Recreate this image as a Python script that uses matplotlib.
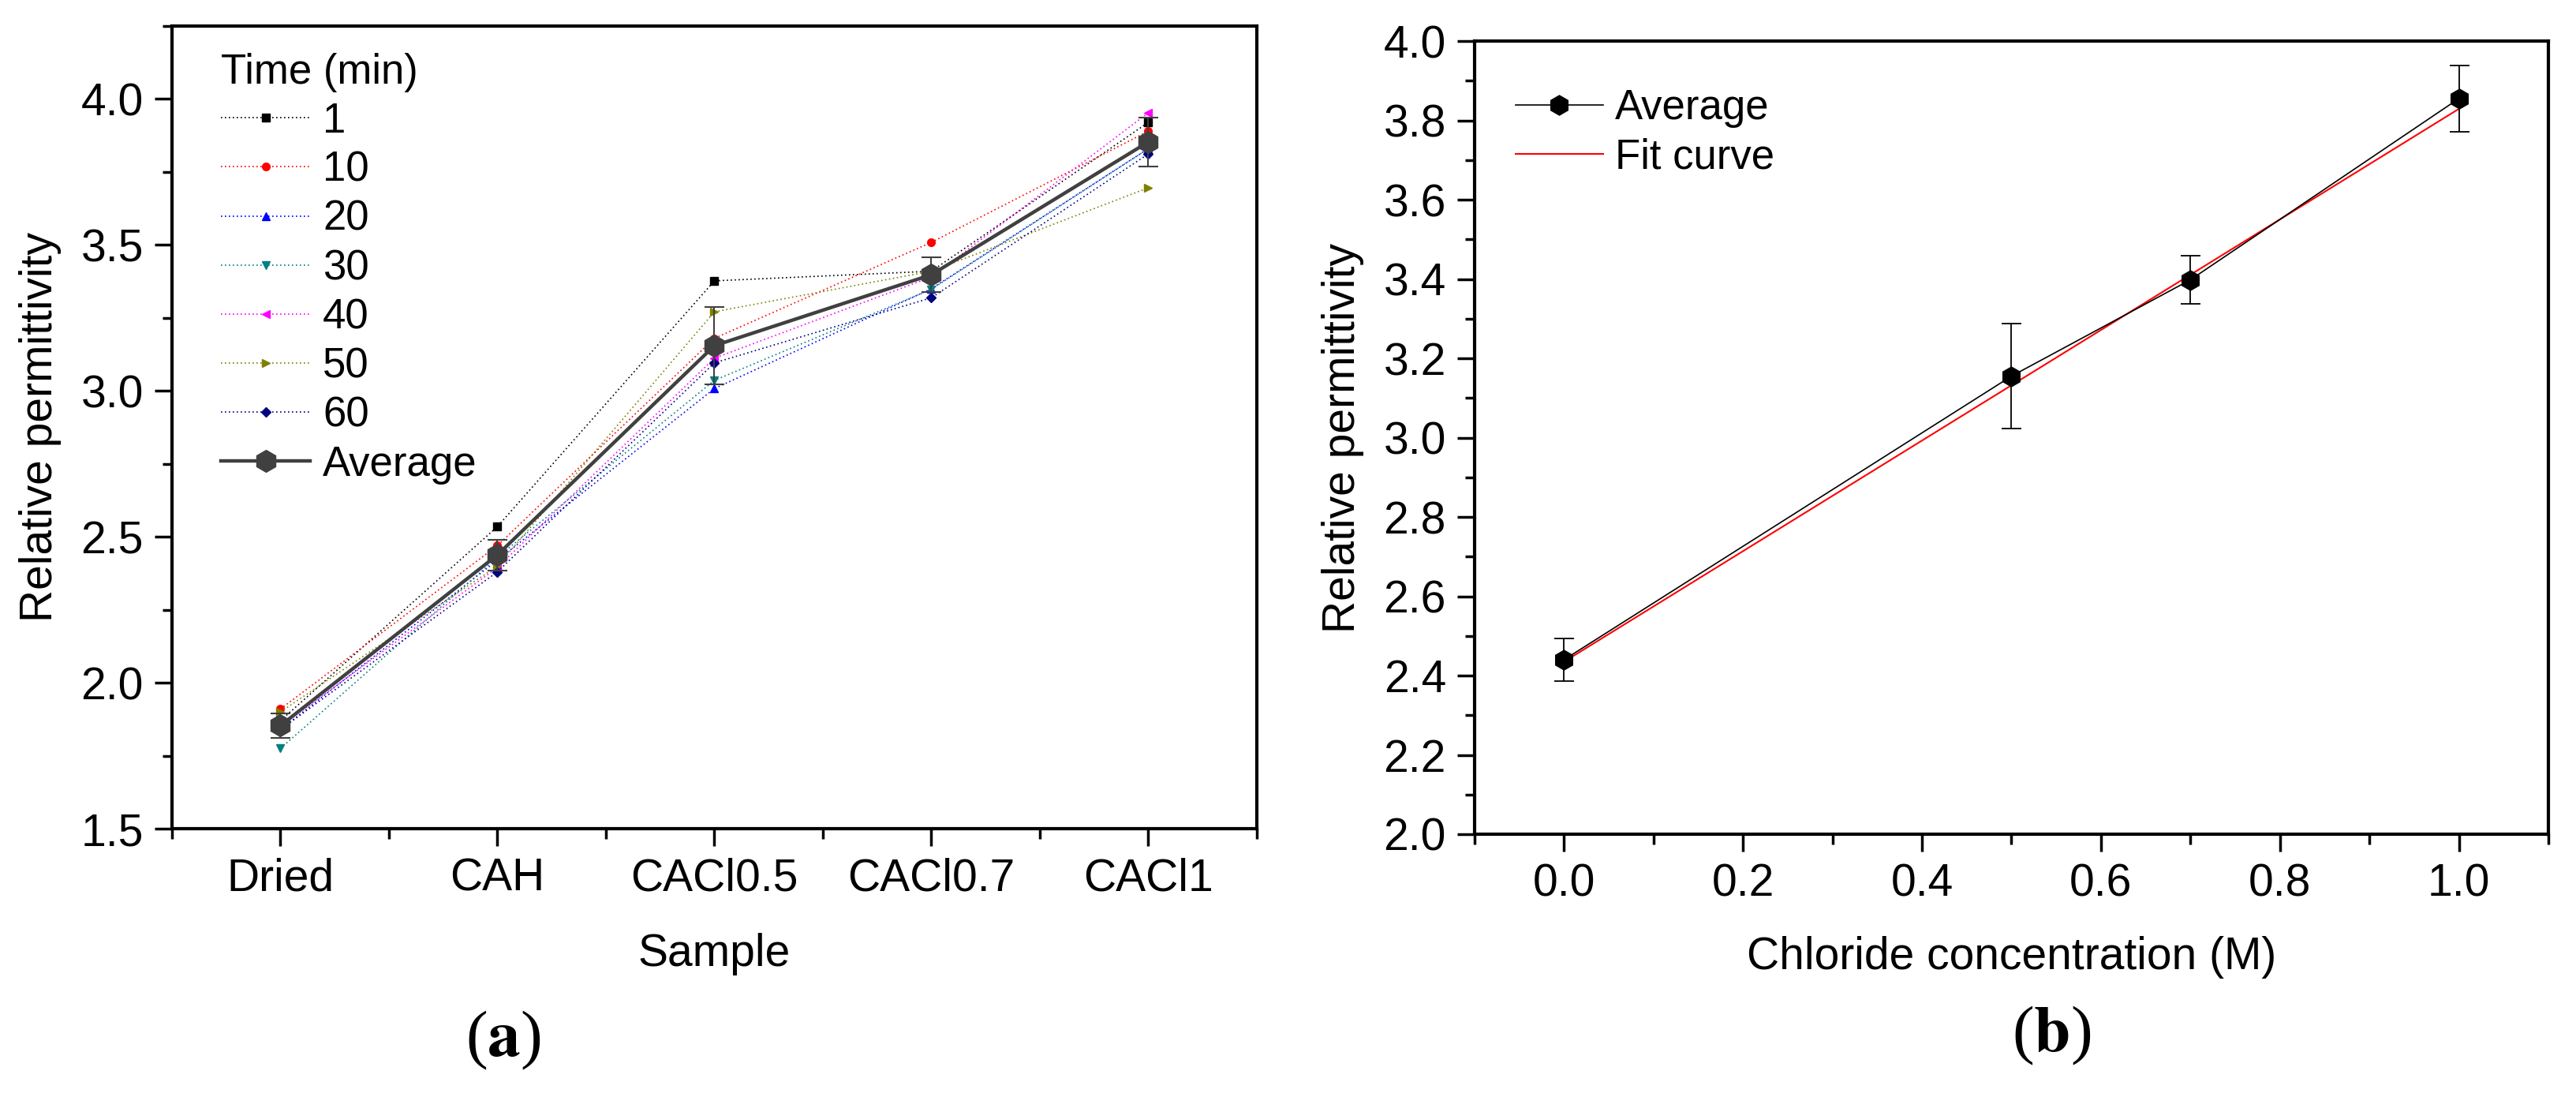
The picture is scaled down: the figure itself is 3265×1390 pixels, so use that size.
import matplotlib
matplotlib.use("Agg")
import matplotlib.pyplot as plt
from matplotlib.ticker import MultipleLocator

plt.rcParams['font.family'] = ['Liberation Sans', 'DejaVu Sans']

# ---------------- data ----------------
samples = ["Dried", "CAH", "CACl0.5", "CACl0.7", "CACl1"]
time_labels = ["1", "10", "20", "30", "40", "50", "60"]
t1 = [1.87, 2.535, 3.377, 3.41, 3.92]
t10 = [1.91, 2.47, 3.18, 3.509, 3.89]
t20 = [1.84, 2.42, 3.008, 3.35, 3.83]
t30 = [1.775, 2.43, 3.036, 3.348, 3.83]
t40 = [1.85, 2.395, 3.112, 3.39, 3.953]
t50 = [1.90, 2.40, 3.271, 3.41, 3.696]
t60 = [1.84, 2.38, 3.096, 3.319, 3.812]
avg_a = [1.853, 2.438, 3.155, 3.398, 3.853]
err_a = [0.043, 0.053, 0.132, 0.060, 0.084]

conc = [0.0, 0.5, 0.7, 1.0]
avg_b = [2.44, 3.155, 3.398, 3.855]
err_b = [0.053, 0.132, 0.060, 0.084]
fit_x = [0.0, 1.0]
fit_y = [2.435, 3.829]

series = [t1, t10, t20, t30, t40, t50, t60]
colors = ["#000000", "#FF0000", "#0000FF", "#008080", "#FF00FF", "#808000", "#000080"]
markers = ["s", "o", "^", "v", "<", ">", "D"]

W, H = 3266, 1390
fig = plt.figure(figsize=(W / 100, H / 100), dpi=100)

def px_axes(l, r, t, b):
    return fig.add_axes([l / W, (H - b) / H, (r - l) / W, (b - t) / H])

TICK_FS = 41
LEG_FS = 38

def style_axes(ax):
    for s in ax.spines.values():
        s.set_linewidth(3)
    ax.tick_params(which='major', direction='out', length=16, width=2.5,
                   labelsize=TICK_FS, pad=10, top=False, right=False)
    ax.tick_params(which='minor', direction='out', length=9, width=2.5,
                   top=False, right=False)

# ---------------- panel (a) ----------------
axa = px_axes(218, 1593, 33, 1050)
x = list(range(len(samples)))
for vals, c, m, lab in zip(series, colors, markers, time_labels):
    axa.plot(x, vals, color=c, linestyle=(0, (1, 2)), linewidth=1.2,
             marker=m, markersize=7 if m != "D" else 6, markerfacecolor=c,
             markeredgecolor=c, label=lab, zorder=2)
axa.errorbar(x, avg_a, yerr=err_a, fmt="none", ecolor="#404040", elinewidth=1.5,
             capsize=9, capthick=1.5, zorder=3)
axa.plot(x, avg_a, color="#404040", linewidth=3.2, marker="h", markersize=20,
         markerfacecolor="#404040", markeredgecolor="#404040", label="Average", zorder=4)
axa.set_xlim(-0.5, 4.5)
axa.set_ylim(1.5, 4.25)
axa.set_xticks(x)
axa.set_xticklabels(samples)
axa.xaxis.set_minor_locator(MultipleLocator(0.5))
axa.yaxis.set_major_locator(MultipleLocator(0.5))
axa.yaxis.set_minor_locator(MultipleLocator(0.25))
axa.set_xlabel("Sample", fontsize=TICK_FS, labelpad=30)
axa.set_ylabel("Relative permittivity", fontsize=TICK_FS, labelpad=18)
style_axes(axa)
axa.legend(loc="upper left", bbox_to_anchor=(0.045, 0.967), frameon=False,
           fontsize=LEG_FS, title="Time (min)", title_fontsize=LEG_FS,
           handlelength=2.15, handletextpad=0.3, labelspacing=0.23,
           borderpad=0, borderaxespad=0, alignment="left")

# ---------------- panel (b) ----------------
axb = px_axes(1869, 3230, 52, 1057)
axb.errorbar(conc, avg_b, yerr=err_b, fmt="none", ecolor="black", elinewidth=1.3,
             capsize=9, capthick=1.3, zorder=3)
axb.plot(conc, avg_b, color="black", linewidth=1.2, marker="h", markersize=18,
         markerfacecolor="black", markeredgecolor="black", label="Average", zorder=4)
axb.plot(fit_x, fit_y, color="#FF0000", linewidth=1.5, label="Fit curve", zorder=2)
axb.set_xlim(-0.1, 1.1)
axb.set_ylim(2.0, 4.0)
axb.xaxis.set_major_locator(MultipleLocator(0.2))
axb.xaxis.set_minor_locator(MultipleLocator(0.1))
axb.yaxis.set_major_locator(MultipleLocator(0.2))
axb.yaxis.set_minor_locator(MultipleLocator(0.1))
axb.set_xlabel("Chloride concentration (M)", fontsize=TICK_FS, labelpad=28)
axb.set_ylabel("Relative permittivity", fontsize=TICK_FS, labelpad=18)
style_axes(axb)
axb.legend(loc="upper left", bbox_to_anchor=(0.038, 0.94), frameon=False,
           fontsize=LEG_FS, handlelength=2.1, handletextpad=0.3,
           labelspacing=0.23, borderpad=0, borderaxespad=0)

# ---------------- panel letters ----------------
fig.text(638 / W, 1 - 1318 / H, r"($\mathbf{a}$)", fontsize=60, ha="center", va="center",
         family="Liberation Serif", math_fontfamily="stix")
fig.text(2600 / W, 1 - 1312 / H, r"($\mathbf{b}$)", fontsize=60, ha="center", va="center",
         family="Liberation Serif", math_fontfamily="stix")

fig.savefig("out.png", dpi=100)
